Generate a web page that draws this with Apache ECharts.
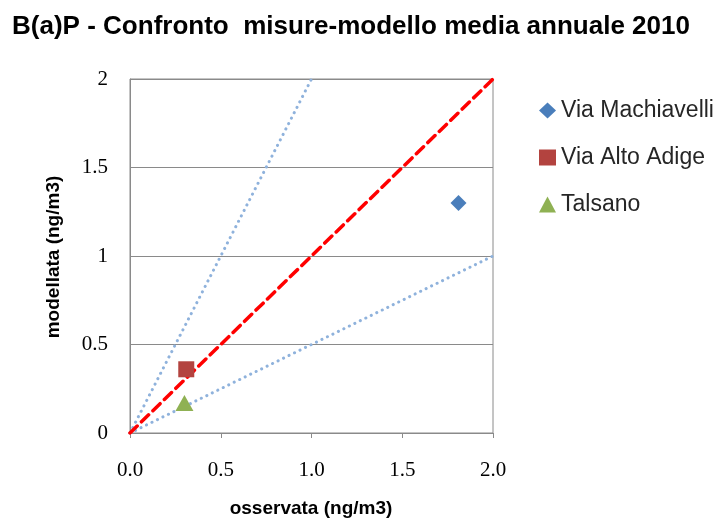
<!DOCTYPE html>
<html>
<head>
<meta charset="utf-8">
<script src="https://cdn.jsdelivr.net/npm/echarts@6/dist/echarts.min.js"></script>
<style>
  html, body { margin: 0; padding: 0; background: #ffffff; }
  #chart { width: 719px; height: 519px; }
</style>
</head>
<body>
<div id="chart"></div>
<script>
// Annual mean B(a)P: measured vs modelled, three monitoring stations
const stations = ['Via Machiavelli', 'Via Alto Adige', 'Talsano'];
const observed = [1.81, 0.31, 0.30];   // ng/m3
const modelled = [1.30, 0.36, 0.17];   // ng/m3
const stationSymbols = ['diamond', 'rect', 'triangle'];
const stationColors = ['#4a7ebb', '#b3433f', '#8fb153'];

// Reference lines: 1:1 parity and factor-of-two band
const parityLine = [[0, 0], [2, 2]];
const upperBand = [[0, 0], [1, 2]];
const lowerBand = [[0, 0], [2, 1]];

const xTickLabels = ['0.0', '0.5', '1.0', '1.5', '2.0'];
const yTickLabels = ['0', '0.5', '1', '1.5', '2'];

const titleText = 'B(a)P - Confronto  misure-modello media annuale 2010';
const xName = 'osservata (ng/m3)';
const yName = 'modellata (ng/m3)';

function textWidth(text, font) {
  const ctx = document.createElement('canvas').getContext('2d');
  ctx.font = font;
  return ctx.measureText(text).width;
}

const titleFont = 'bold 25px "Liberation Sans", Arial, sans-serif';
const titleScale = 678 / textWidth(titleText, titleFont);

const chart = echarts.init(document.getElementById('chart'), null, { renderer: 'canvas' });

const scatterSeries = stations.map((name, i) => ({
  name: name,
  type: 'scatter',
  data: [[observed[i], modelled[i]]],
  symbol: stationSymbols[i],
  symbolSize: i === 2 ? [18, 16] : 16,
  itemStyle: { color: stationColors[i], opacity: 1 },
  z: 5
}));

const refSeries = [
  { data: upperBand, color: '#8fb2dc', type: [0.1, 6], width: 3 },
  { data: lowerBand, color: '#8fb2dc', type: [0.1, 6], width: 3 },
  { data: parityLine, color: '#ff0000', type: [10, 6], width: 3.5 }
].map(r => ({
  type: 'line',
  data: r.data,
  symbol: 'none',
  silent: true,
  z: 2,
  lineStyle: { color: r.color, width: r.width, type: r.type, cap: 'round' }
}));

chart.setOption({
  animation: false,
  backgroundColor: '#ffffff',
  grid: {
    left: 130, top: 79, width: 363, height: 354,
    show: true, borderColor: '#8a8a8a', borderWidth: 1, backgroundColor: 'transparent'
  },
  xAxis: {
    type: 'value', min: 0, max: 2, interval: 0.5,
    axisLine: { show: true, lineStyle: { color: '#8a8a8a', width: 1 } },
    axisTick: { show: true, length: 5, lineStyle: { color: '#8a8a8a' } },
    splitLine: { show: false },
    axisLabel: {
      margin: 27,
      fontFamily: '"Liberation Serif", "Times New Roman", serif',
      fontSize: 21, color: '#000000',
      formatter: v => xTickLabels[Math.round(v / 0.5)]
    }
  },
  yAxis: {
    type: 'value', min: 0, max: 2, interval: 0.5,
    axisLine: { show: true, lineStyle: { color: '#8a8a8a', width: 1 } },
    axisTick: { show: false },
    splitLine: { show: true, lineStyle: { color: '#8a8a8a', width: 1 } },
    axisLabel: {
      margin: 22,
      fontFamily: '"Liberation Serif", "Times New Roman", serif',
      fontSize: 21, color: '#000000',
      formatter: v => yTickLabels[Math.round(v / 0.5)]
    }
  },
  legend: {
    data: stations,
    orient: 'vertical',
    left: 534, top: 94,
    itemWidth: 17, itemHeight: 16, itemGap: 24,
    itemStyle: { opacity: 1 },
    textStyle: { fontFamily: '"Liberation Sans", Arial, sans-serif', fontSize: 23, color: '#262626' }
  },
  graphic: [
    {
      type: 'text', x: 12, y: 27, scaleX: titleScale,
      style: { text: titleText, font: titleFont, fill: '#000000', textAlign: 'left', textVerticalAlign: 'middle' }
    },
    {
      type: 'text', x: 311, y: 509,
      style: { text: xName, font: 'bold 19px "Liberation Sans", Arial, sans-serif', fill: '#000000', textAlign: 'center', textVerticalAlign: 'middle' }
    },
    {
      type: 'text', x: 54, y: 257, rotation: Math.PI / 2,
      style: { text: yName, font: 'bold 19px "Liberation Sans", Arial, sans-serif', fill: '#000000', textAlign: 'center', textVerticalAlign: 'middle' }
    }
  ],
  series: refSeries.concat(scatterSeries)
});
</script>
</body>
</html>
